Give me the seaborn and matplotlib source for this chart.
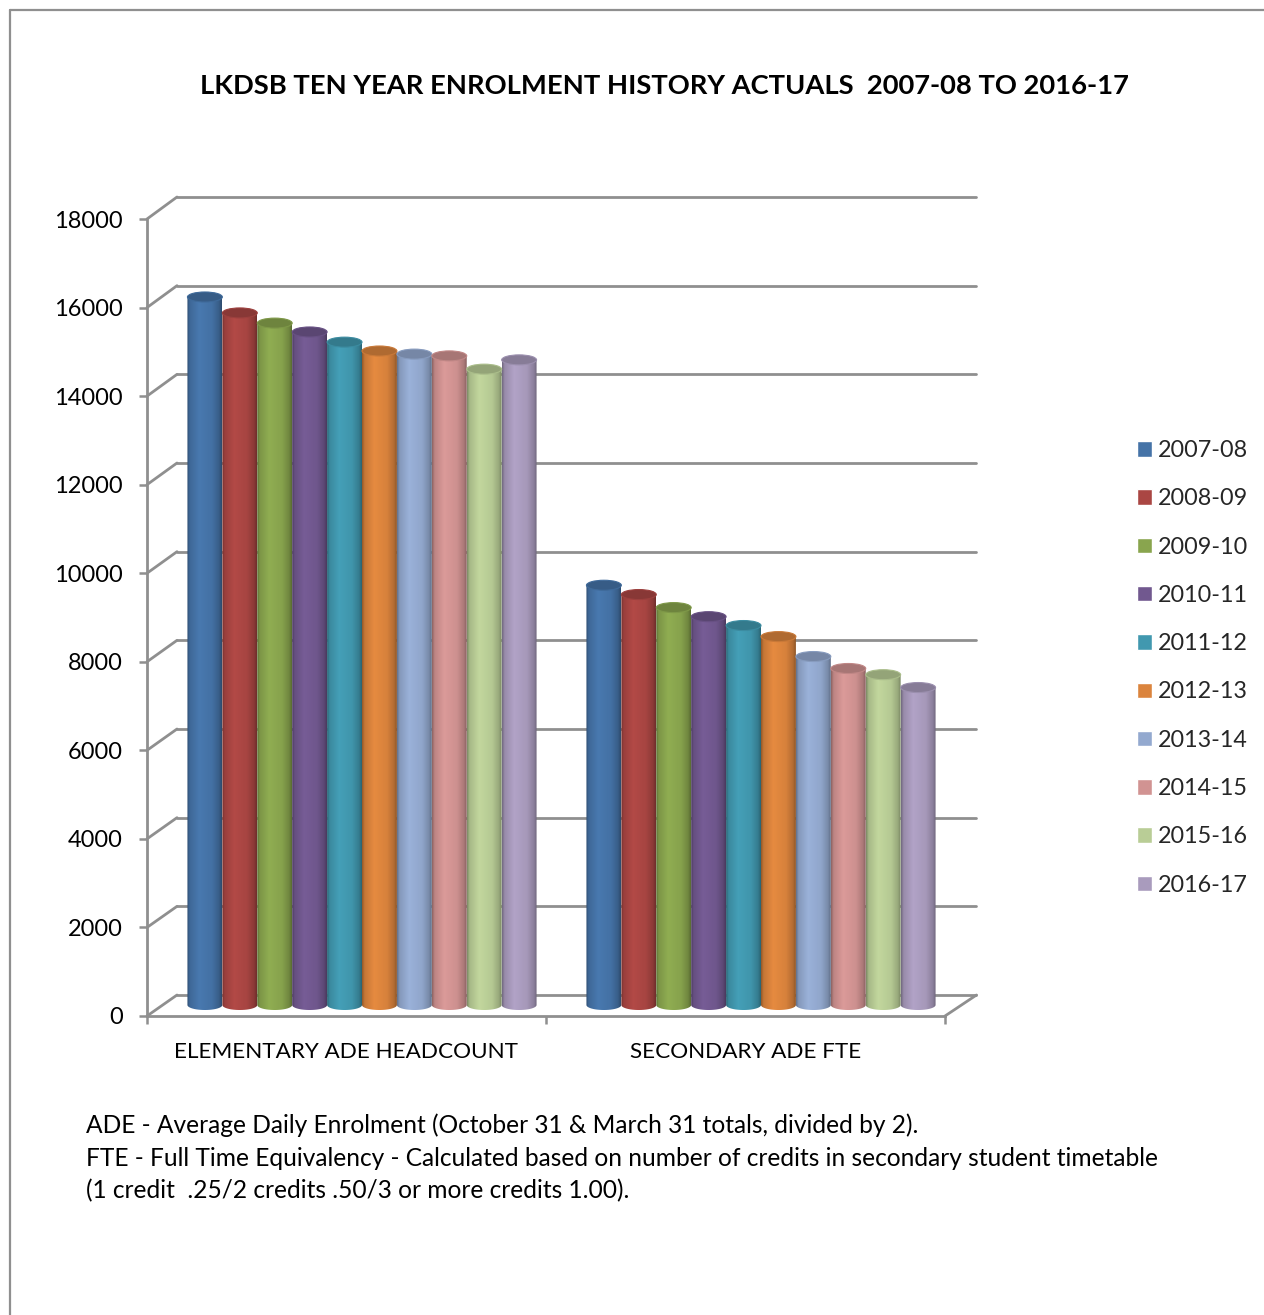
import numpy as np
import pandas as pd
import matplotlib
matplotlib.use('Agg')
import matplotlib.pyplot as plt
import seaborn as sns
from matplotlib.lines import Line2D
from matplotlib.patches import ConnectionPatch, Ellipse, PathPatch
from matplotlib.path import Path
from matplotlib.ticker import FixedLocator, NullFormatter

years = ['2007-08', '2008-09', '2009-10', '2010-11', '2011-12',
         '2012-13', '2013-14', '2014-15', '2015-16', '2016-17']
groups = ['ELEMENTARY ADE HEADCOUNT', 'SECONDARY ADE FTE']
elementary = [15990, 15630, 15400, 15200, 14970, 14770, 14700, 14660, 14360, 14570]
secondary = [9480, 9270, 8975, 8770, 8570, 8320, 7870, 7600, 7460, 7170]
colors = ['#4573a7', '#aa4643', '#89a54e', '#71588f', '#4198af',
          '#db843d', '#93a9cf', '#d19392', '#b9cd96', '#a99bbd']
yticks = [0, 2000, 4000, 6000, 8000, 10000, 12000, 14000, 16000, 18000]

title = 'LKDSB TEN YEAR ENROLMENT HISTORY ACTUALS  2007-08 TO 2016-17'
notes = ['ADE - Average Daily Enrolment (October 31 & March 31 totals, divided by 2).',
         'FTE - Full Time Equivalency - Calculated based on number of credits in secondary student timetable',
         '(1 credit  .25/2 credits .50/3 or more credits 1.00).']

W, H = 1264, 1315
GRAY = '#8f8f8f'


def px(x):
    return x / W


def py(y):
    return 1 - y / H


def box(left, right, top, bottom):
    return [px(left), py(bottom), (right - left) / W, (bottom - top) / H]


sns.set_theme(style='white')
plt.rcParams['font.family'] = ['Lato', 'DejaVu Sans']

df = pd.DataFrame({
    'group': [groups[0]] * len(years) + [groups[1]] * len(years),
    'year': years + years,
    'value': elementary + secondary,
})

fig = plt.figure(figsize=(W / 100, H / 100), dpi=100, facecolor='white')

# back wall, only the grid lines
ax_back = fig.add_axes(box(177, 976.5, 197, 995), zorder=0)
ax_back.set_xlim(-0.5, 1.5)
ax_back.set_ylim(0, 18000)
ax_back.set_yticks(yticks)
ax_back.set_xticks([])
ax_back.tick_params(left=False, labelleft=False)
ax_back.grid(axis='y', color=GRAY, lw=2.0)
for line in ax_back.get_ygridlines():
    line.set_clip_on(False)
sns.despine(ax=ax_back, left=True, bottom=True)

# front axis with ticks and labels
ax_front = fig.add_axes(box(147, 945, 219, 1016), zorder=1)
ax_front.patch.set_alpha(0)
ax_front.set_xlim(-0.5, 1.5)
ax_front.set_ylim(0, 18000)
ax_front.set_yticks(yticks)
ax_front.xaxis.set_major_locator(FixedLocator([-0.5, 0.5, 1.5]))
ax_front.xaxis.set_major_formatter(NullFormatter())
ax_front.set_xticks([0, 1], labels=groups, minor=True)
ax_front.tick_params(axis='y', length=5.5, width=1.8, color=GRAY, left=True,
                     pad=12, labelsize=17, labelcolor='black')
ax_front.tick_params(axis='x', which='major', length=5.5, width=1.8, color=GRAY, bottom=True)
ax_front.tick_params(axis='x', which='minor', length=0, pad=18.5, labelsize=16.2, labelcolor='black')
sns.despine(ax=ax_front)
for side in ['left', 'bottom']:
    ax_front.spines[side].set_color(GRAY)
    ax_front.spines[side].set_linewidth(2.0)

# side wall and floor edges
for v in yticks:
    fig.add_artist(ConnectionPatch((-0.5, v), (-0.5, v), 'data', 'data', axesA=ax_front,
                                   axesB=ax_back, color=GRAY, lw=2.0, zorder=1))
fig.add_artist(ConnectionPatch((1.5, 0), (1.5, 0), 'data', 'data', axesA=ax_front,
                               axesB=ax_back, color=GRAY, lw=2.0, zorder=1))

# bars sit half way into the depth
ax = fig.add_axes(box(162.5, 960.5, 208, 1005 + 500 * 797 / 18000), zorder=3)
sns.barplot(data=df, x='group', y='value', hue='year', palette=colors, hue_order=years,
            width=0.875, gap=0, saturation=1, ax=ax, legend=True)

sns.move_legend(ax, loc='upper left', bbox_to_anchor=(px(1137), py(440)),
                bbox_transform=fig.transFigure, frameon=False, title=None,
                fontsize=16.8, borderpad=0, borderaxespad=0, handlelength=0.65,
                handleheight=0.65, handletextpad=0.26, labelspacing=1.17)

# shade the flat bars into cylinders
cap = 226
t = np.linspace(0, 1, 64)
shade = np.interp(t, [0, 0.07, 0.35, 0.72, 0.92, 1], [0.68, 0.9, 1.05, 0.98, 0.82, 0.66])
for bars in ax.containers:
    for patch in bars:
        x0, w, h = patch.get_x(), patch.get_width(), patch.get_height()
        if h == 0:
            continue
        base = np.array(matplotlib.colors.to_rgb(patch.get_facecolor()))
        patch.set_visible(False)
        img = np.clip(base[None, None, :] * shade[None, :, None], 0, 1)
        im = ax.imshow(img, extent=(x0, x0 + w, -cap, h), aspect='auto', zorder=2)
        a = np.linspace(0, np.pi, 30)
        arc = np.column_stack([x0 + w / 2 + w / 2 * np.cos(a), -cap / 2 * np.sin(a)])
        outline = np.vstack([[[x0, h], [x0 + w, h]], arc, [[x0, h]]])
        clip = PathPatch(Path(outline), transform=ax.transData, fc='none', ec='none')
        ax.add_patch(clip)
        im.set_clip_path(clip)
        ax.add_patch(Ellipse((x0 + w / 2, h), w, cap, fc=base * 0.8,
                             ec=np.clip(base * 0.92, 0, 1), lw=0.8, zorder=3))

ax.set_xlim(-0.5, 1.5)
ax.set_ylim(-500, 18000)
ax.set_axis_off()

fig.text(px(664), py(86), title, ha='center', va='center', fontsize=19.75, fontweight='bold', color='black')
for text, y in zip(notes, [1125, 1158, 1191]):
    fig.text(px(86), py(y), text, ha='left', va='center', fontsize=17.67, color='black')

# page border, runs off the right and bottom edges
fig.add_artist(Line2D([px(10), px(10)], [py(10), 0], color=GRAY, lw=1.6))
fig.add_artist(Line2D([px(10), 1], [py(10), py(10)], color=GRAY, lw=1.6))

fig.savefig('out.png', dpi=100)
